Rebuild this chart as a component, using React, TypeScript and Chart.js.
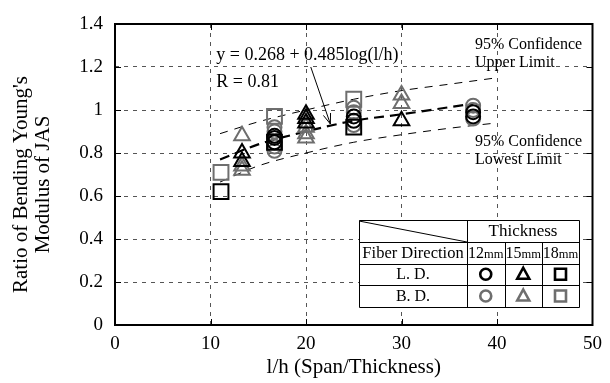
import React, { useEffect, useRef } from "react";
import { Chart, registerables } from "chart.js";

Chart.register(...registerables);

// ---- axes ----
const xMin = 0;
const xMax = 50;
const xStep = 10;
const yMin = 0;
const yMax = 1.4;
const yStep = 0.2;
const yTickLabels = ["0", "0.2", "0.4", "0.6", "0.8", "1", "1.2", "1.4"];
const xTitle = "l/h (Span/Thickness)";
const yTitle = ["Ratio of Bending Young's", "Modulus of JAS"];

// ---- data: L.D. (black) ----
const ld12X = [16.7, 16.7, 16.7, 25, 25, 37.5, 37.5];
const ld12Y = [0.85, 0.87, 0.88, 0.95, 0.97, 0.97, 0.99];
const ld15X = [13.3, 13.3, 20, 20, 20, 30];
const ld15Y = [0.8, 0.76, 0.98, 0.96, 0.94, 0.95];
const ld18X = [11.1, 16.7, 25];
const ld18Y = [0.62, 0.85, 0.92];

// ---- data: B.D. (gray) ----
const bd12X = [16.7, 16.7, 16.7, 16.7, 25, 25, 25, 37.5, 37.5, 37.5];
const bd12Y = [0.81, 0.83, 0.9, 0.92, 0.93, 0.99, 1.01, 0.96, 1.0, 1.02];
const bd15X = [13.3, 13.3, 13.3, 20, 20, 20, 30, 30];
const bd15Y = [0.88, 0.74, 0.72, 0.92, 0.89, 0.87, 1.07, 1.03];
const bd18X = [11.1, 16.7, 25];
const bd18Y = [0.71, 0.97, 1.05];

// ---- regression and 95% confidence limits ----
const regX = [11, 15, 20, 25, 30, 37.5];
const regY = [0.77, 0.84, 0.9, 0.95, 0.98, 1.03];
const bandX = [11, 15, 20, 25, 30, 35, 40];
const upperY = [0.89, 0.945, 1.0, 1.05, 1.09, 1.12, 1.15];
const lowerY = [0.665, 0.74, 0.8, 0.85, 0.885, 0.915, 0.94];

// ---- annotations ----
const eqText = "y = 0.268 + 0.485log(l/h)";
const rText = "R = 0.81";
const upperLabel = ["95% Confidence", "Upper Limit"];
const lowerLabel = ["95% Confidence", "Lowest Limit"];
const tableHead = "Thickness";
const tableRowHead = "Fiber Direction";
const tableCols = ["12", "15", "18"];
const tableRows = ["L. D.", "B. D."];

const BLACK = "#000000";
const GRAY = "#6e6e6e";
const SERIF = "'Liberation Serif', 'Times New Roman', serif";

const pts = (xs: number[], ys: number[]) => xs.map((x, i) => ({ x, y: ys[i] }));

function drawSymbol(ctx: CanvasRenderingContext2D, kind: string, cx: number, cy: number, color: string) {
  ctx.save();
  ctx.strokeStyle = color;
  ctx.lineWidth = 2.6;
  ctx.beginPath();
  if (kind === "circle") {
    ctx.arc(cx, cy, 5.5, 0, Math.PI * 2);
  } else if (kind === "triangle") {
    ctx.moveTo(cx, cy - 6.5);
    ctx.lineTo(cx + 6, cy + 4.5);
    ctx.lineTo(cx - 6, cy + 4.5);
    ctx.closePath();
  } else {
    ctx.rect(cx - 5.5, cy - 5.5, 11, 11);
  }
  ctx.stroke();
  ctx.restore();
}

const overlayPlugin = {
  id: "overlay",
  afterDraw(chart: any) {
    const { ctx, chartArea, scales } = chart;
    const xs = scales.x;
    const ys = scales.y;
    const { left, right, top, bottom } = chartArea;
    ctx.save();

    // inner ticks
    ctx.strokeStyle = BLACK;
    ctx.lineWidth = 1;
    for (let v = yMin + yStep; v < yMax - 1e-6; v += yStep) {
      const py = Math.round(ys.getPixelForValue(v)) + 0.5;
      ctx.beginPath();
      ctx.moveTo(left, py);
      ctx.lineTo(left + 6, py);
      ctx.moveTo(right, py);
      ctx.lineTo(right - 6, py);
      ctx.stroke();
    }
    for (let v = xMin + xStep; v < xMax - 1e-6; v += xStep) {
      const px = Math.round(xs.getPixelForValue(v)) + 0.5;
      ctx.beginPath();
      ctx.moveTo(px, bottom);
      ctx.lineTo(px, bottom - 6);
      ctx.moveTo(px, top);
      ctx.lineTo(px, top + 6);
      ctx.stroke();
    }

    // plot box
    ctx.lineWidth = 2;
    ctx.strokeRect(left, top, right - left, bottom - top);

    // y title
    ctx.fillStyle = BLACK;
    ctx.font = `21px ${SERIF}`;
    ctx.textAlign = "center";
    ctx.textBaseline = "middle";
    const ty = (top + bottom) / 2 + 10;
    yTitle.forEach((line, i) => {
      ctx.save();
      ctx.translate(21 + i * 22, ty);
      ctx.rotate(-Math.PI / 2);
      ctx.fillText(line, 0, 0);
      ctx.restore();
    });

    // equation annotation
    ctx.textAlign = "left";
    ctx.font = `18px ${SERIF}`;
    ctx.fillText(eqText, xs.getPixelForValue(10.6), ys.getPixelForValue(1.255));
    ctx.fillText(rText, xs.getPixelForValue(10.6), ys.getPixelForValue(1.13));

    // arrow
    const ax0 = xs.getPixelForValue(20.5);
    const ay0 = ys.getPixelForValue(1.2);
    const ax1 = xs.getPixelForValue(22.55);
    const ay1 = ys.getPixelForValue(0.935);
    ctx.lineWidth = 1;
    ctx.beginPath();
    ctx.moveTo(ax0, ay0);
    ctx.lineTo(ax1, ay1);
    const ang = Math.atan2(ay1 - ay0, ax1 - ax0);
    const hl = 11;
    ctx.moveTo(ax1, ay1);
    ctx.lineTo(ax1 - hl * Math.cos(ang - 0.35), ay1 - hl * Math.sin(ang - 0.35));
    ctx.moveTo(ax1, ay1);
    ctx.lineTo(ax1 - hl * Math.cos(ang + 0.35), ay1 - hl * Math.sin(ang + 0.35));
    ctx.stroke();

    // confidence labels
    ctx.font = `16px ${SERIF}`;
    ctx.fillText(upperLabel[0], xs.getPixelForValue(37.7), ys.getPixelForValue(1.305));
    ctx.fillText(upperLabel[1], xs.getPixelForValue(37.7), ys.getPixelForValue(1.22));
    ctx.fillText(lowerLabel[0], xs.getPixelForValue(37.7), ys.getPixelForValue(0.853));
    ctx.fillText(lowerLabel[1], xs.getPixelForValue(37.7), ys.getPixelForValue(0.77));

    // legend table
    const cx = [359, 467, 504.5, 542, 579];
    const ry = [220, 242, 263.5, 285, 307];
    ctx.fillStyle = "#ffffff";
    ctx.fillRect(cx[0], ry[0], cx[4] - cx[0], ry[4] - ry[0]);
    ctx.strokeStyle = BLACK;
    ctx.lineWidth = 1;
    ctx.beginPath();
    ctx.rect(cx[0] + 0.5, ry[0] + 0.5, cx[4] - cx[0], ry[4] - ry[0]);
    for (let i = 1; i < 4; i++) {
      const y = Math.round(ry[i]) + 0.5;
      ctx.moveTo(cx[0], y);
      ctx.lineTo(cx[4], y);
    }
    ctx.moveTo(cx[1] + 0.5, ry[0]);
    ctx.lineTo(cx[1] + 0.5, ry[4]);
    for (let i = 2; i < 4; i++) {
      const x = Math.round(cx[i]) + 0.5;
      ctx.moveTo(x, ry[1]);
      ctx.lineTo(x, ry[4]);
    }
    ctx.moveTo(cx[0], ry[0] + 1);
    ctx.lineTo(cx[1], ry[1]);
    ctx.stroke();

    ctx.fillStyle = BLACK;
    ctx.textAlign = "center";
    ctx.font = `17px ${SERIF}`;
    ctx.fillText(tableHead, (cx[1] + cx[4]) / 2, (ry[0] + ry[1]) / 2 + 1);
    ctx.font = `16.5px ${SERIF}`;
    ctx.fillText(tableRowHead, (cx[0] + cx[1]) / 2, (ry[1] + ry[2]) / 2 + 1);
    ctx.font = `16px ${SERIF}`;
    tableRows.forEach((r, i) => {
      ctx.fillText(r, (cx[0] + cx[1]) / 2, (ry[i + 2] + ry[i + 3]) / 2 + 1);
    });
    tableCols.forEach((c, i) => {
      const mid = (cx[i + 1] + cx[i + 2]) / 2;
      const yy = (ry[1] + ry[2]) / 2 + 1;
      ctx.font = `16px ${SERIF}`;
      const w1 = ctx.measureText(c).width;
      ctx.font = `12.5px ${SERIF}`;
      const w2 = ctx.measureText("mm").width;
      const start = mid - (w1 + w2) / 2;
      ctx.textAlign = "left";
      ctx.font = `16px ${SERIF}`;
      ctx.fillText(c, start, yy);
      ctx.font = `12.5px ${SERIF}`;
      ctx.fillText("mm", start + w1, yy + 1);
      ctx.textAlign = "center";
    });
    const kinds = ["circle", "triangle", "rect"];
    kinds.forEach((k, i) => {
      const mid = (cx[i + 1] + cx[i + 2]) / 2;
      drawSymbol(ctx, k, mid, (ry[2] + ry[3]) / 2, BLACK);
      drawSymbol(ctx, k, mid, (ry[3] + ry[4]) / 2, GRAY);
    });

    ctx.restore();
  },
};

export default function App() {
  const ref = useRef<HTMLCanvasElement | null>(null);

  useEffect(() => {
    document.body.style.margin = "0";
    const canvas = ref.current;
    if (!canvas) return;

    const marker = (label: string, xs: number[], ys: number[], style: string, color: string, radius: number) => ({
      label,
      data: pts(xs, ys),
      pointStyle: style,
      pointRadius: radius,
      pointBorderWidth: 2,
      pointBorderColor: color,
      pointBackgroundColor: "rgba(0,0,0,0)",
      borderColor: color,
      backgroundColor: "rgba(0,0,0,0)",
      showLine: false,
    });

    const line = (label: string, xs: number[], ys: number[], width: number, dash: number[]) => ({
      label,
      data: pts(xs, ys),
      showLine: true,
      pointRadius: 0,
      borderColor: BLACK,
      borderWidth: width,
      borderDash: dash,
      cubicInterpolationMode: "monotone",
      fill: false,
    });

    const chart = new Chart(canvas, {
      type: "scatter",
      data: {
        datasets: [
          marker("L.D. 12mm", ld12X, ld12Y, "circle", BLACK, 7),
          marker("L.D. 15mm", ld15X, ld15Y, "triangle", BLACK, 9),
          marker("L.D. 18mm", ld18X, ld18Y, "rect", BLACK, 10.5),
          marker("B.D. 12mm", bd12X, bd12Y, "circle", GRAY, 7),
          marker("B.D. 15mm", bd15X, bd15Y, "triangle", GRAY, 9),
          marker("B.D. 18mm", bd18X, bd18Y, "rect", GRAY, 10.5),
          line("Regression", regX, regY, 2.2, [10, 6]),
          line("Upper", bandX, upperY, 1, [8, 7]),
          line("Lower", bandX, lowerY, 1, [8, 7]),
        ] as any,
      },
      options: {
        animation: false,
        responsive: false,
        devicePixelRatio: 1,
        layout: { padding: { top: 24, right: 13, bottom: 0, left: 0 } },
        plugins: { legend: { display: false }, tooltip: { enabled: false } },
        scales: {
          x: {
            type: "linear",
            min: xMin,
            max: xMax,
            afterFit: (s: any) => {
              s.height = 58;
            },
            ticks: {
              stepSize: xStep,
              padding: 8,
              color: BLACK,
              font: { family: SERIF, size: 19 },
            },
            grid: {
              drawTicks: false,
              color: (c: any) =>
                c.tick && c.tick.value > xMin && c.tick.value < xMax ? "#555555" : "rgba(0,0,0,0)",
              lineWidth: 1,
            },
            border: { display: false, dash: [4, 5] },
            title: {
              display: true,
              text: xTitle,
              color: BLACK,
              font: { family: SERIF, size: 21 },
              padding: { top: 0, bottom: 3 },
            },
          },
          y: {
            type: "linear",
            min: yMin,
            max: yMax,
            afterFit: (s: any) => {
              s.width = 115;
            },
            ticks: {
              stepSize: yStep,
              padding: 12,
              color: BLACK,
              font: { family: SERIF, size: 19 },
              callback: (_v: any, i: number) => yTickLabels[i],
            },
            grid: {
              drawTicks: false,
              color: (c: any) =>
                c.tick && c.tick.value > yMin + 1e-6 && c.tick.value < yMax - 1e-6 ? "#555555" : "rgba(0,0,0,0)",
              lineWidth: 1,
            },
            border: { display: false, dash: [4, 5] },
          },
        },
      } as any,
      plugins: [overlayPlugin],
    });

    return () => chart.destroy();
  }, []);

  return (
    <div style={{ width: 610, height: 383, background: "#ffffff" }}>
      <canvas ref={ref} width={610} height={383} />
    </div>
  );
}
